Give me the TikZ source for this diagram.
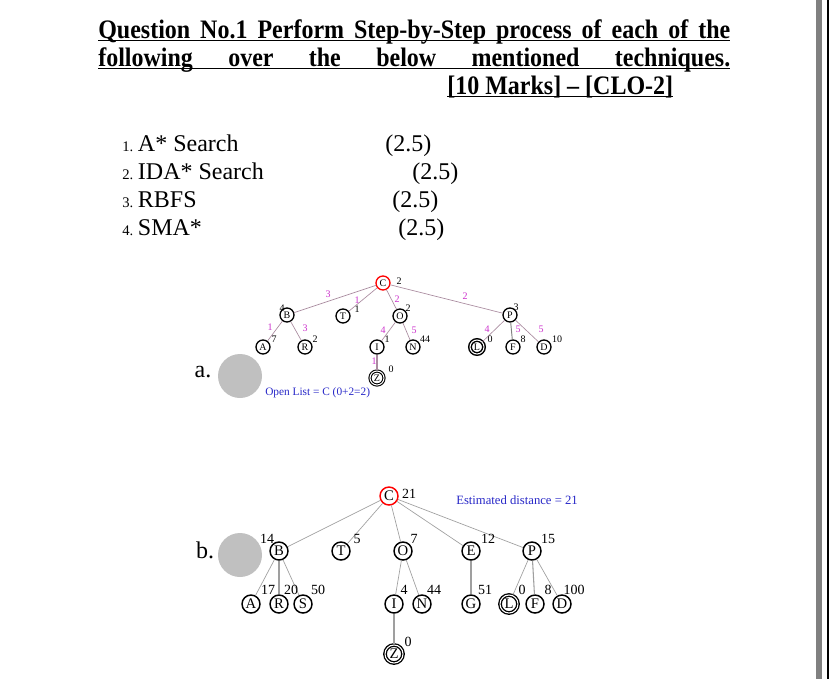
\documentclass[tikz,border=0pt]{standalone}
\usepackage{fontspec}
\setmainfont{Liberation Serif}
\newfontfamily\headfont[FakeStretch=0.9]{Liberation Serif}
\usepackage{xcolor}
\usetikzlibrary{positioning, calc}

\definecolor{pagegray}{RGB}{128,128,128}
\definecolor{discgray}{RGB}{192,192,192}
\definecolor{edgepink}{RGB}{170,140,160}
\definecolor{wmag}{RGB}{205,50,205}
\definecolor{noteblue}{RGB}{40,40,200}

% underline through the whole line (spaces too), just under the baseline
\newsavebox{\ulbox}
\newcommand{\ulfull}[2]{\makebox[0pt][l]{\rule[-2.6pt]{#1}{0.9pt}}\makebox[#1][s]{#2}}
\newcommand{\ulnat}[1]{\sbox{\ulbox}{#1}\makebox[0pt][l]{\rule[-2.6pt]{\wd\ulbox}{0.9pt}}\usebox{\ulbox}}

\tikzset{
  head/.style={anchor=base west, inner sep=0pt, font=\headfont\bfseries\fontsize{20}{24}\selectfont},
  item/.style={anchor=base west, inner sep=0pt, font=\fontsize{18}{20}\selectfont},
  disc/.style={circle, fill=discgray, minimum size=33pt, inner sep=0pt},
  % tree a
  sa/.style={circle, draw, line width=1pt, minimum size=10.5pt, inner sep=0pt, font=\fontsize{7.5}{7.5}\selectfont},
  ea/.style={draw=edgepink, line width=0.5pt},
  va/.style={inner sep=0pt, font=\fontsize{7.5}{7.5}\selectfont},
  wa/.style={inner sep=0pt, text=wmag, font=\fontsize{7.5}{7.5}\selectfont},
  % tree b
  sb/.style={circle, draw, line width=1.1pt, minimum size=13.5pt, inner sep=0pt, font=\fontsize{11}{11}\selectfont},
  eb/.style={draw=gray!75, line width=0.5pt},
  vb/.style={inner sep=0pt, font=\fontsize{10.5}{10.5}\selectfont},
  goal/.style={double, double distance=0.8pt, line width=0.8pt},
}

\begin{document}
\begin{tikzpicture}[x=0.75pt, y=-0.75pt]
    % Page
    \useasboundingbox (0,0) rectangle (829,679);
    \fill[white] (0,0) rectangle (829,679);
    \fill[pagegray] (816,0) rectangle (822,679);
    \fill[black] (827,0) rectangle (829,679);

    % Question heading
    \node[head] (head1) at (98,38) {\ulfull{474pt}{Question No.1 Perform Step-by-Step process of each of the}};
    \node[head] (head2) at (98,66) {\ulfull{474pt}{following over the below mentioned techniques.}};
    \node[head] (head3) at (447,94) {\ulnat{[10 Marks] – [CLO-2]}};

    % Techniques and marks
    \node[item] (it1) at (122,151) {{\fontsize{11}{12}\selectfont 1.}\hspace{3.5pt}A* Search};
    \node[item] (it2) at (122,179) {{\fontsize{11}{12}\selectfont 2.}\hspace{3.5pt}IDA* Search};
    \node[item] (it3) at (122,207) {{\fontsize{11}{12}\selectfont 3.}\hspace{3.5pt}RBFS};
    \node[item] (it4) at (122,235) {{\fontsize{11}{12}\selectfont 4.}\hspace{3.5pt}SMA*};
    \node[item] (mk1) at (385,151) {(2.5)};
    \node[item] (mk2) at (412,179) {(2.5)};
    \node[item] (mk3) at (392,207) {(2.5)};
    \node[item] (mk4) at (398,235) {(2.5)};

    % Part labels
    \node[disc] (da) at (240,376) {}; \node[font=\fontsize{18}{20}\selectfont] (pa) at (203,372) {a.};
    \node[disc] (db) at (240,555) {}; \node[font=\fontsize{18}{20}\selectfont] (pb) at (205,550) {b.};

    % Tree a
    \node[sa, draw=red] (aC) at (383,283) {C};
    \node[sa] (aB) at (287,315) {B}; \node[sa] (aT) at (343,316) {T};
    \node[sa] (aO) at (400,316) {O}; \node[sa] (aP) at (510,315) {P};
    \node[sa] (aA) at (263,347) {A}; \node[sa] (aR) at (305,347) {R};
    \node[sa] (aI) at (377,347) {I}; \node[sa] (aN) at (413,347) {N};
    \node[sa, goal, line width=1.1pt] (aL) at (477,347) {L}; \node[sa] (aF) at (513,347) {F};
    \node[sa] (aD) at (544,347) {D};
    \node[sa, goal] (aZ) at (377,378) {Z};

    \draw[ea] (aC) -- (aB); \draw[ea] (aC) -- (aT); \draw[ea] (aC) -- (aO); \draw[ea] (aC) -- (aP);
    \draw[ea] (aB) -- (aA); \draw[ea] (aB) -- (aR);
    \draw[ea] (aO) -- (aI); \draw[ea] (aO) -- (aN);
    \draw[ea] (aP) -- (aL); \draw[ea, draw=gray, line width=0.7pt] (aP) -- (aF); \draw[ea] (aP) -- (aD);
    \draw[ea, line width=0.8pt] (aI) -- (aZ);

    % h values (a)
    \node[va] (hC) at (399,281) {2}; \node[va] (hB) at (282,308) {4};
    \node[va] (hT) at (357,309) {1}; \node[va] (hO) at (408,308) {2};
    \node[va] (hP) at (516,307) {3}; \node[va] (hA) at (274,339) {7};
    \node[va] (hR) at (315,339) {2}; \node[va] (hI) at (387,339) {1};
    \node[va] (hN) at (425,339) {44}; \node[va] (hL) at (490,339) {0};
    \node[va] (hF) at (523,339) {8}; \node[va] (hD) at (557,339) {10};
    \node[va] (hZ) at (391,369) {0};

    % step costs (a)
    \node[wa] (gCB) at (328,294) {3}; \node[wa] (gCT) at (357,300) {1};
    \node[wa] (gCO) at (397,299) {2}; \node[wa] (gCP) at (465,296) {2};
    \node[wa] (gBA) at (270,327) {1}; \node[wa] (gBR) at (305,328) {3};
    \node[wa] (gOI) at (383,330) {4}; \node[wa] (gON) at (414,330) {5};
    \node[wa] (gPL) at (487,329) {4}; \node[wa] (gPF) at (518,329) {5};
    \node[wa] (gPD) at (541,329) {5}; \node[wa] (gIZ) at (374,361) {1};

    \node[anchor=west, inner sep=0pt, text=noteblue, font=\fontsize{8.5}{9}\selectfont] (open) at (265,393) {Open List = C (0+2=2)};

    % Tree b
    \node[sb, draw=red] (bC) at (389,496) {C};
    \node[sb] (bB) at (279,551) {B}; \node[sb] (bT) at (341,551) {T};
    \node[sb] (bO) at (403,551) {O}; \node[sb] (bE) at (471,551) {E};
    \node[sb] (bP) at (532,551) {P};
    \node[sb] (bA) at (251,604) {A}; \node[sb] (bR) at (279,604) {R};
    \node[sb] (bS) at (303,604) {S}; \node[sb] (bI) at (394,604) {I};
    \node[sb] (bN) at (422,604) {N}; \node[sb] (bG) at (471,604) {G};
    \node[sb, goal, line width=1pt] (bL) at (509,604) {L}; \node[sb] (bF) at (535,604) {F};
    \node[sb] (bD) at (562,604) {D};
    \node[sb, goal, line width=1pt] (bZ) at (394,654) {Z};

    \draw[eb] (bC) -- (bB); \draw[eb] (bC) -- (bT); \draw[eb] (bC) -- (bO);
    \draw[eb] (bC) -- (bE); \draw[eb] (bC) -- (bP);
    \draw[eb] (bB) -- (bA); \draw[eb, line width=0.8pt] (bB) -- (bR); \draw[eb] (bB) -- (bS);
    \draw[eb] (bO) -- (bI); \draw[eb] (bO) -- (bN);
    \draw[eb, line width=0.9pt] (bE) -- (bG);
    \draw[eb] (bP) -- (bL); \draw[eb, line width=0.8pt] (bP) -- (bF); \draw[eb] (bP) -- (bD);
    \draw[eb, line width=0.9pt] (bI) -- (bZ);

    % estimates (b)
    \node[vb] (fC) at (409,494) {21}; \node[vb] (fB) at (267,539) {14};
    \node[vb] (fT) at (357,539) {5}; \node[vb] (fO) at (414,539) {7};
    \node[vb] (fE) at (488,539) {12}; \node[vb] (fP) at (548,539) {15};
    \node[vb] (fA) at (268,590) {17}; \node[vb] (fR) at (291,590) {20};
    \node[vb] (fS) at (318,590) {50}; \node[vb] (fI) at (404,590) {4};
    \node[vb] (fN) at (434,590) {44}; \node[vb] (fG) at (485,590) {51};
    \node[vb] (fL) at (522,590) {0}; \node[vb] (fF) at (548,590) {8};
    \node[vb] (fD) at (574,590) {100}; \node[vb] (fZ) at (408,642) {0};

    \node[anchor=west, inner sep=0pt, text=noteblue, font=\fontsize{9.5}{10}\selectfont] (est) at (456,500) {Estimated distance = 21};
\end{tikzpicture}
\end{document}
